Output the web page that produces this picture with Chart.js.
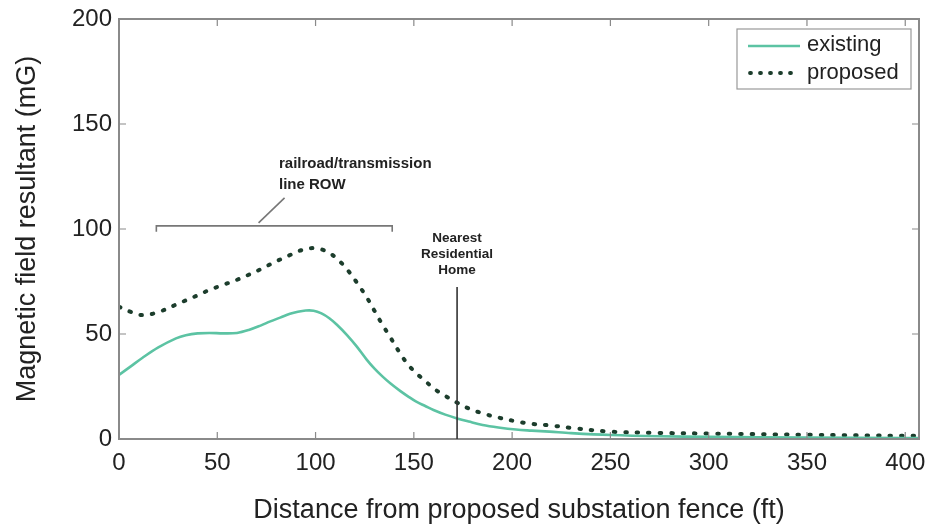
<!DOCTYPE html>
<html><head><meta charset="utf-8">
<script src="https://cdn.jsdelivr.net/npm/chart.js@4/dist/chart.umd.min.js"></script>
<style>html,body{margin:0;padding:0;background:#fff}#wrap{width:932px;height:527px}</style>
</head><body><div id="wrap"><canvas id="c" width="932" height="527"></canvas></div>
<script>
const distances = [0,6,12,20,29,34,40,46,53,60,66,72,77,82,87,91,95,99,103,107,111,116,121,126,130,134,138,143,147,151,156,160,166,172,178,185,193,202,210,219,230,250,275,300,350,400,407];
const existing  = [30.5,34.6,38.7,43.6,47.9,49.4,50.3,50.5,50.3,50.5,51.9,54,56,57.8,59.6,60.6,61.2,61.1,59.8,57.5,54.3,49.5,44,37.8,33.5,29.8,26.5,22.9,20.3,17.9,15.6,13.8,11.6,9.8,8.3,6.7,5.5,4.5,4,3.5,2.8,1.9,1.3,1.0,0.7,0.5,0.5];
const proposed  = [63,60.5,59,60.4,64,66,68.4,71,73.4,75.8,78.2,80.8,83.2,85.5,87.6,89.3,90.5,90.9,90.3,88.6,85.8,80.8,74.5,67.5,61,54.5,48.5,40.8,35.5,31.5,27.5,24.1,20.5,17.3,14.5,12.2,10.2,8.4,7.2,6.5,5.3,3.5,2.9,2.6,2,1.5,1.5];
const seriesNames = ["existing","proposed"];
const xTicks = [0,50,100,150,200,250,300,350,400];
const yTicks = [0,50,100,150,200];
const homeX = 172;
const rowRange = [19,139];
const rowY = 101.5;

const TEAL = '#5cc3a3', DARK = '#1c3d2c', AXIS = '#8a8a8a';
const FONT = '"Liberation Sans", Arial, Helvetica, sans-serif';

const deco = {
  id:'deco',
  afterDatasetsDraw(chart){
    const {ctx, chartArea:a, scales:{x,y}} = chart;
    ctx.save();
    ctx.strokeStyle = AXIS; ctx.lineWidth = 2;
    ctx.strokeRect(a.left, a.top, a.right-a.left, a.bottom-a.top);
    ctx.lineWidth = 1.2;
    xTicks.forEach(v=>{const px=x.getPixelForValue(v);
      ctx.beginPath();ctx.moveTo(px,a.bottom);ctx.lineTo(px,a.bottom-7);ctx.moveTo(px,a.top);ctx.lineTo(px,a.top+7);ctx.stroke();});
    yTicks.forEach(v=>{const py=y.getPixelForValue(v);
      ctx.beginPath();ctx.moveTo(a.left,py);ctx.lineTo(a.left+7,py);ctx.moveTo(a.right,py);ctx.lineTo(a.right-7,py);ctx.stroke();});
    // nearest home line
    const hx = x.getPixelForValue(homeX);
    ctx.strokeStyle='#333'; ctx.lineWidth=1.6;
    ctx.beginPath(); ctx.moveTo(hx, y.getPixelForValue(72.4)); ctx.lineTo(hx, a.bottom); ctx.stroke();
    ctx.fillStyle='#222'; ctx.font='bold 13.5px '+FONT; ctx.textAlign='center'; ctx.textBaseline='middle';
    ctx.fillText('Nearest', hx, 238); ctx.fillText('Residential', hx, 254); ctx.fillText('Home', hx, 270);
    // ROW bracket
    const bx1=x.getPixelForValue(rowRange[0]), bx2=x.getPixelForValue(rowRange[1]), by=y.getPixelForValue(rowY);
    ctx.strokeStyle='#777'; ctx.lineWidth=1.6;
    ctx.beginPath(); ctx.moveTo(bx1,by+6); ctx.lineTo(bx1,by); ctx.lineTo(bx2,by); ctx.lineTo(bx2,by+6); ctx.stroke();
    const mx = x.getPixelForValue(71);
    ctx.beginPath(); ctx.moveTo(mx,by-3); ctx.lineTo(mx+26,by-28); ctx.stroke();
    ctx.textAlign='left'; ctx.font='bold 15px '+FONT; ctx.fillStyle='#222';
    ctx.fillText('railroad/transmission', 279, 164); ctx.fillText('line ROW', 279, 185);
    // legend
    ctx.fillStyle='#fff'; ctx.strokeStyle='#999'; ctx.lineWidth=1.2;
    ctx.fillRect(737,29,174,60); ctx.strokeRect(737,29,174,60);
    ctx.strokeStyle=TEAL; ctx.lineWidth=2.6; ctx.beginPath(); ctx.moveTo(748,46); ctx.lineTo(800,46); ctx.stroke();
    ctx.strokeStyle=DARK; ctx.lineWidth=3.8; ctx.lineCap='round'; ctx.setLineDash([1,9]);
    ctx.beginPath(); ctx.moveTo(750,73); ctx.lineTo(798,73); ctx.stroke(); ctx.setLineDash([]);
    ctx.fillStyle='#222'; ctx.font='22px '+FONT; ctx.textAlign='left';
    ctx.fillText(seriesNames[0], 807, 45); ctx.fillText(seriesNames[1], 807, 73);
    ctx.restore();
  }
};

new Chart(document.getElementById('c'), {
  type:'line',
  data:{datasets:[
    {label:seriesNames[0], data:distances.map((d,i)=>({x:d,y:existing[i]})), borderColor:TEAL, borderWidth:2.6, pointRadius:0, tension:0.35, fill:false},
    {label:seriesNames[1], data:distances.map((d,i)=>({x:d,y:proposed[i]})), borderColor:DARK, borderWidth:4, borderCapStyle:'round', borderDash:[1.5,10], pointRadius:0, tension:0.35, fill:false}
  ]},
  options:{
    responsive:false, animation:false, devicePixelRatio:1,
    layout:{padding:{top:19,right:13,left:0,bottom:0}},
    plugins:{legend:{display:false}, tooltip:{enabled:false}},
    scales:{
      x:{type:'linear', min:0, max:407, afterBuildTicks:s=>{s.ticks=xTicks.map(v=>({value:v}));},
        afterFit:s=>{s.height=88; s.paddingLeft=0; s.paddingRight=0;},
        grid:{display:false, drawTicks:false}, border:{display:false},
        ticks:{color:'#222', font:{family:FONT,size:24}, padding:10, maxRotation:0, autoSkip:false},
        title:{display:true, text:'Distance from proposed substation fence (ft)', color:'#222', font:{family:FONT,size:27}, padding:{top:0,bottom:0}}},
      y:{type:'linear', min:0, max:200, afterBuildTicks:s=>{s.ticks=yTicks.map(v=>({value:v}));},
        afterFit:s=>{s.width=119; s.paddingTop=0; s.paddingBottom=0;},
        grid:{display:false, drawTicks:false}, border:{display:false},
        ticks:{color:'#222', font:{family:FONT,size:24}, padding:7},
        title:{display:true, text:'Magnetic field resultant (mG)', color:'#222', font:{family:FONT,size:27}, padding:{top:11,bottom:0}}}
    }
  },
  plugins:[deco]
});
</script></body></html>
